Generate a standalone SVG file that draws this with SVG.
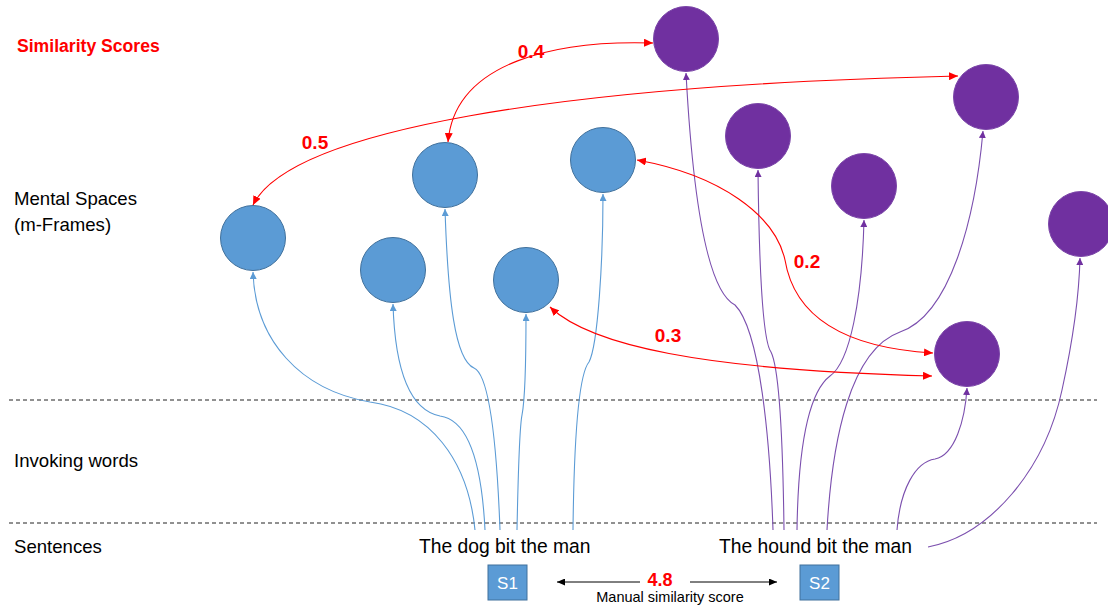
<svg xmlns="http://www.w3.org/2000/svg" width="1108" height="605" viewBox="0 0 1108 605">
  <style>
    .lbl { font-family: "Liberation Sans", Arial, sans-serif; font-size: 18.6px; fill: #000; }
    .score { font-family: "Liberation Sans", Arial, sans-serif; font-size: 19px; font-weight: bold; fill: #FF0000; }
    .sent { font-family: "Liberation Sans", Arial, sans-serif; font-size: 19.3px; fill: #000; }
    .box-txt { font-family: "Liberation Sans", Arial, sans-serif; font-size: 17px; fill: #fff; text-anchor: middle; }
    .blue { fill: #5B9BD5; stroke: #41719C; stroke-width: 1; }
    .purple { fill: #7030A0; stroke: #7B46A8; stroke-width: 1; }
    .sep { stroke: #222; stroke-width: 1; stroke-dasharray: 4 3; fill: none; }
    .cb { fill: none; stroke: #5B9BD5; stroke-width: 1.1; marker-end: url(#ahBlue); }
    .cp { fill: none; stroke: #7B4FAE; stroke-width: 1.1; marker-end: url(#ahPurple); }
    .cr { fill: none; stroke: #FF0000; stroke-width: 1.1; marker-start: url(#ahRed); marker-end: url(#ahRed); }
    .ck { fill: none; stroke: #000; stroke-width: 1; marker-end: url(#ahBlack); }
  </style>
  <defs>
    <marker id="ahBlue" markerUnits="userSpaceOnUse" markerWidth="7" markerHeight="7" refX="7" refY="3.5" orient="auto-start-reverse">
      <path d="M0,0 L7,3.5 L0,7 z" fill="#5B9BD5"/>
    </marker>
    <marker id="ahPurple" markerUnits="userSpaceOnUse" markerWidth="7" markerHeight="7" refX="7" refY="3.5" orient="auto-start-reverse">
      <path d="M0,0 L7,3.5 L0,7 z" fill="#7030A0"/>
    </marker>
    <marker id="ahRed" markerUnits="userSpaceOnUse" markerWidth="9" markerHeight="8" refX="9" refY="4" orient="auto-start-reverse">
      <path d="M0,0 L9,4 L0,8 z" fill="#FF0000"/>
    </marker>
    <marker id="ahBlack" markerUnits="userSpaceOnUse" markerWidth="8" markerHeight="7" refX="8" refY="3.5" orient="auto-start-reverse">
      <path d="M0,0 L8,3.5 L0,7 z" fill="#000"/>
    </marker>
  </defs>

  <rect width="1108" height="605" fill="#fff"/>

  <!-- row labels -->
  <g id="row-labels">
    <text x="17" y="52" class="score" style="font-size:17.6px">Similarity Scores</text>
    <text x="14" y="205" class="lbl">Mental Spaces</text>
    <text x="14" y="231" class="lbl">(m-Frames)</text>
    <text x="14" y="467" class="lbl">Invoking words</text>
    <text x="14" y="553" class="lbl">Sentences</text>
  </g>

  <!-- layer separators -->
  <g id="separators">
    <line x1="9" y1="400" x2="1097" y2="400" class="sep"/>
    <line x1="9" y1="523" x2="1097" y2="523" class="sep"/>
  </g>

  <!-- m-Frames of sentence 1 -->
  <g id="m1"><circle cx="253" cy="238" r="32.5" class="blue"/></g>
  <g id="m2"><circle cx="393" cy="270" r="32.5" class="blue"/></g>
  <g id="m3"><circle cx="445" cy="175" r="32.5" class="blue"/></g>
  <g id="m4"><circle cx="526" cy="280" r="32.5" class="blue"/></g>
  <g id="m5"><circle cx="603" cy="160" r="32.5" class="blue"/></g>

  <!-- m-Frames of sentence 2 -->
  <g id="n1"><circle cx="686" cy="39" r="32.5" class="purple"/></g>
  <g id="n2"><circle cx="758" cy="136" r="32.5" class="purple"/></g>
  <g id="n3"><circle cx="864" cy="186" r="32.5" class="purple"/></g>
  <g id="n4"><circle cx="986" cy="97" r="32.5" class="purple"/></g>
  <g id="n5"><circle cx="1081" cy="224" r="32.5" class="purple"/></g>
  <g id="n6"><circle cx="967" cy="354" r="32.5" class="purple"/></g>

  <!-- sentences -->
  <g id="sentence1">
    <text x="419" y="553" class="sent">The dog bit the man</text>
  </g>
  <g id="sentence2">
    <text x="719" y="553" class="sent">The hound bit the man</text>
  </g>

  <!-- sentence ids and manual score -->
  <g id="s1">
    <rect x="488" y="565" width="39" height="35" fill="#5B9BD5" stroke="#41719C" stroke-width="1"/>
    <text x="507.5" y="588.5" class="box-txt">S1</text>
  </g>
  <g id="s2">
    <rect x="800" y="565" width="39" height="35" fill="#5B9BD5" stroke="#41719C" stroke-width="1"/>
    <text x="819.5" y="588.5" class="box-txt">S2</text>
  </g>
  <g id="manual-score">
    <text x="660" y="586" class="score" style="font-size:18px" text-anchor="middle">4.8</text>
    <text x="670" y="602" class="lbl" style="font-size:14.5px" text-anchor="middle">Manual similarity score</text>
  </g>

  <g id="connectors">
    <!-- manual score arrows -->
    <path d="M640,582 L557,582" class="ck"/>
    <path d="M690,582 L777,582" class="ck"/>

    <!-- words of sentence 1 invoking frames -->
    <path d="M475,530 C468,460 430,410 370,402 C300,390 255,340 253,272" class="cb"/>
    <path d="M485,530 C482,470 470,420 440,416 C410,410 395,370 393,304" class="cb"/>
    <path d="M500,530 C497,450 490,375 474,368 C455,360 448,300 445,209" class="cb"/>
    <path d="M517,530 C518,480 520,425 522,415 C525,400 526,360 526,314" class="cb"/>
    <path d="M573,530 C574,440 578,375 589,362 C598,345 603,260 603,194" class="cb"/>

    <!-- words of sentence 2 invoking frames -->
    <path d="M773,530 C770,440 760,330 735,305 C715,295 695,240 686,73" class="cp"/>
    <path d="M784,530 C783,450 780,370 771,352 C762,340 759,260 758,170" class="cp"/>
    <path d="M797,530 C798,460 805,395 830,376 C850,362 862,300 864,220" class="cp"/>
    <path d="M827,530 C832,440 850,350 900,332 C950,315 975,220 983,131" class="cp"/>
    <path d="M897,530 C900,490 915,462 935,459 C955,455 965,420 967,388" class="cp"/>
    <path d="M928,547 C990,535 1045,470 1062,390 C1073,340 1079,300 1080,258" class="cp"/>

    <!-- frame similarity scores -->
    <path d="M448,142 C455,60 560,40 653,43" class="cr"/>
    <path d="M253,205 C290,130 560,85 958,76" class="cr"/>
    <path d="M637,160 C720,175 775,215 785,260 C795,320 850,348 933,353" class="cr"/>
    <path d="M550,307 C590,345 700,370 932,376" class="cr"/>
  </g>

  <g id="score-labels">
    <text x="531" y="58" class="score" text-anchor="middle">0.4</text>
    <text x="315" y="149" class="score" text-anchor="middle">0.5</text>
    <text x="807" y="268" class="score" text-anchor="middle">0.2</text>
    <text x="668" y="342" class="score" text-anchor="middle">0.3</text>
  </g>
</svg>
